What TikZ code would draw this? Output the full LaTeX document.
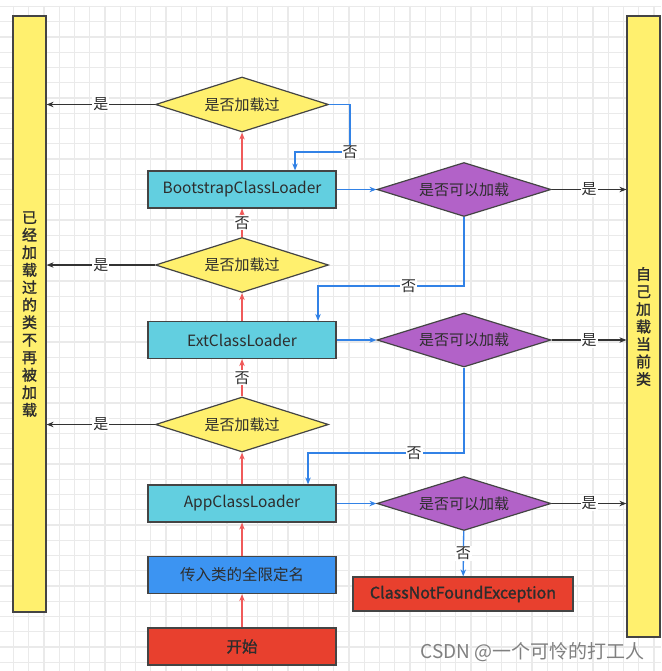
\documentclass[tikz,border=0pt]{standalone}
\usepackage{fontspec}
\setmainfont{Noto Sans CJK SC}[AutoFakeBold=1.5]
\usetikzlibrary{shapes.geometric,arrows.meta,positioning}

\definecolor{barfill}{RGB}{255,240,110}
\definecolor{loadfill}{RGB}{98,207,224}
\definecolor{namefill}{RGB}{60,148,242}
\definecolor{redfill}{RGB}{232,64,46}
\definecolor{askfill}{RGB}{178,98,200}
\definecolor{edgegray}{RGB}{68,68,68}
\definecolor{txtgray}{RGB}{45,45,45}
\definecolor{arrowred}{RGB}{240,90,90}
\definecolor{arrowblue}{RGB}{50,130,230}
\definecolor{yesgray}{RGB}{51,51,51}
\definecolor{gridgray}{RGB}{234,234,234}

\tikzset{
	gridln/.style = {draw=gridgray, line width=1.2pt},
	loader/.style = {draw=edgegray, line width=1.2pt, fill=loadfill, text=txtgray,
		minimum width=188pt, minimum height=37pt, inner sep=0pt,
		font=\fontsize{15.5}{17}\selectfont},
	loaded/.style = {diamond, aspect=3.15, draw=edgegray, line width=1.2pt, fill=barfill,
		text=txtgray, minimum width=173pt, minimum height=55pt, inner sep=0pt,
		font=\fontsize{15}{17}\selectfont},
	canload/.style = {loaded, fill=askfill, minimum width=174pt, minimum height=54pt},
	bar/.style = {draw=edgegray, line width=1.2pt, fill=barfill, text=txtgray,
		minimum width=33pt, inner sep=0pt, align=center,
		font=\fontsize{15}{17.5}\selectfont\bfseries},
	redup/.style = {draw=arrowred, line width=1.3pt, -{Stealth[length=7pt,width=5.5pt]}},
	blueto/.style = {draw=arrowblue, line width=1.3pt, -{Stealth[length=7pt,width=5.5pt]}},
	yesto/.style = {draw=yesgray, line width=1.3pt, -{Stealth[length=7pt,width=5.5pt]}},
	lbl/.style = {fill=white, inner sep=1pt, text=txtgray, font=\fontsize{15}{15}\selectfont}
}

\begin{document}
\begin{tikzpicture}[x=1pt, y=-1pt]

	\useasboundingbox[fill=white] (0,0) rectangle (661,671);
	\foreach \i in {0,...,42}
		\draw[gridln] ({13.55+15.25*\i},6) -- ({13.55+15.25*\i},671);
	\foreach \j in {0,...,43}
		\draw[gridln] (0,{6.45+15.25*\j}) -- (661,{6.45+15.25*\j});

	% side bars
	\node[bar, minimum height=596pt] (done) at (29.5,314)
		{已\\经\\加\\载\\过\\的\\类\\不\\再\\被\\加\\载};
	\node[bar, minimum height=621pt] (self) at (643.5,326.5)
		{自\\己\\加\\载\\当\\前\\类};

	% loaders
	\node[loader] (boot) at (242,189.5) {BootstrapClassLoader};
	\node[loader] (ext) at (242,340) {ExtClassLoader};
	\node[loader] (app) at (242,503.5) {AppClassLoader};
	\node[loader, fill=namefill] (name) at (242,575) {传入类的全限定名};
	\node[loader, fill=redfill, font=\fontsize{15.5}{17}\selectfont\bfseries] (start) at (242,646.5) {开始};

	\node[loaded] (askb) at (242,104.5) {是否加载过};
	\node[loaded] (aske) at (242,265) {是否加载过};
	\node[loaded] (aska) at (242,424.5) {是否加载过};

	\node[canload] (canb) at (464,189.5) {是否可以加载};
	\node[canload] (cane) at (464,340) {是否可以加载};
	\node[canload] (cana) at (464,503.5) {是否可以加载};

	\node[loader, fill=redfill, minimum width=220pt, minimum height=34pt,
		font=\fontsize{16}{17}\selectfont\bfseries] (cnf) at (463,594) {ClassNotFoundException};

	% parent delegation
	\draw[redup] (start) -- (name);
	\draw[redup] (name) -- (app);
	\draw[redup] (app) -- (aska);
	\draw[redup] (aska) -- node[lbl] (noa) {否} (ext);
	\draw[redup] (ext) -- (aske);
	\draw[redup] (aske) -- node[lbl] (noe) {否} (boot);
	\draw[redup] (boot) -- (askb);

	\draw[yesto] (askb.west) -- node[lbl] (yb) {是} (askb.west -| done.east);
	\draw[yesto] (aske.west) -- node[lbl] (ye) {是} (aske.west -| done.east);
	\draw[yesto] (aska.west) -- node[lbl] (ya) {是} (aska.west -| done.east);

	\draw[yesto] (canb.east) -- node[lbl] (cb) {是} (canb.east -| self.west);
	\draw[yesto] (cane.east) -- node[lbl] (ce) {是} (cane.east -| self.west);
	\draw[yesto] (cana.east) -- node[lbl] (ca) {是} (cana.east -| self.west);

	% try loading
	\coordinate (bturn) at (350,152);
	\draw[blueto] (askb.east) -| (bturn) node[lbl] (nob) {否} -| ([xshift=53pt]boot.north);
	\draw[blueto] (boot) -- (canb);
	\draw[blueto] (ext) -- (cane);
	\draw[blueto] (app) -- (cana);

	\coordinate (eturn) at (318,286);
	\draw[blueto] (canb.south) |- node[lbl, pos=0.69] (nce) {否} (eturn) -- (ext.north -| eturn);
	\coordinate (aturn) at (308,453);
	\draw[blueto] (cane.south) |- node[lbl, pos=0.66] (nca) {否} (aturn) -- (app.north -| aturn);
	\draw[blueto] (cana) -- node[lbl] (ncn) {否} (cnf);

	\node[text=gray, anchor=east, inner sep=0pt, font=\fontsize{19}{19}\selectfont] (mark) at (645,652)
		{CSDN @一个可怜的打工人};
\end{tikzpicture}
\end{document}
